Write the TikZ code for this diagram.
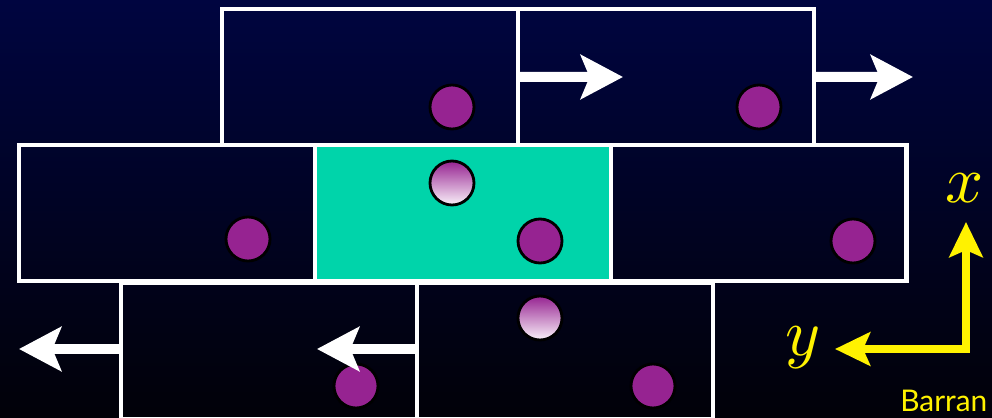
\documentclass[tikz,border=0pt]{standalone}
\usepackage{graphicx}
\usepackage{fontspec}
\newfontfamily\barfont{Lato}
\usetikzlibrary{arrows.meta, positioning}
\definecolor{bgtop}{RGB}{0,5,64}
\definecolor{bgbot}{RGB}{1,1,8}
\definecolor{cellteal}{RGB}{0,212,170}
\definecolor{ptcl}{RGB}{150,35,145}
\definecolor{ptlight}{RGB}{250,242,250}
\newcommand{\biglab}[1]{\scalebox{3.8}{$#1$}}

\begin{document}
\begin{tikzpicture}[
  x=0.02cm, y=-0.02cm,
  node distance=0pt,
  cell/.style={draw=white, line width=0.095cm, minimum width=5.92cm,
               minimum height=2.72cm, inner sep=0pt, outer sep=0pt},
  dot/.style={circle, draw=black, line width=1.6pt, fill=ptcl,
              minimum size=0.88cm, inner sep=0pt},
  ghost/.style={dot, top color=ptcl, bottom color=ptlight},
  move/.style={draw=white, line width=0.2cm,
                -{Stealth[length=24pt, width=25pt, inset=5pt]}},
  axis/.style={draw=yellow, line width=0.16cm, line join=miter,
               {Stealth[length=20pt, width=19pt, inset=4pt]}-{Stealth[length=20pt, width=19pt, inset=4pt]}},
  lab/.style={text=yellow, inner sep=0pt}
]
\shade[top color=bgtop, bottom color=bgbot] (0,0) rectangle (992,418);
\useasboundingbox (0,0) rectangle (992,418);
\clip (0,0) rectangle (992,418);

% cells, three rows
\node[cell, anchor=north west] (t1) at (222,9) {};
\node[cell, right=of t1] (t2) {};
\node[cell, anchor=north west] (m1) at (19,145) {};
\node[cell, right=of m1, fill=cellteal] (m2) {};
\node[cell, right=of m2] (m3) {};
\node[cell, anchor=north west] (b1) at (121,283) {};
\node[cell, right=of b1] (b2) {};

% particles
\node[dot] (p1) at (452,107) {};
\node[dot] (p2) at (759,107) {};
\node[dot] (p3) at (248,239) {};
\node[ghost] (p4) at (452,183) {};
\node[dot] (p5) at (540,241) {};
\node[dot] (p6) at (853,241) {};
\node[ghost] (p7) at (540,318) {};
\node[dot] (p8) at (356,386) {};
\node[dot] (p9) at (653,386) {};

% moves
\coordinate (s1) at (623,77);
\coordinate (s2) at (913,77);
\coordinate (s3) at (19,349);
\coordinate (s4) at (317,349);
\draw[move] (t2.west) -- (s1);
\draw[move] (t2.east) -- (s2);
\draw[move] (b1.west |- s3) -- (s3);
\draw[move] (b2.west |- s4) -- (s4);

% axes
\coordinate (ax0) at (966,349);
\coordinate (axx) at (966,222);
\coordinate (axy) at (835,349);
\draw[axis] (axy) -- (ax0) -- (axx);
\node[lab] (lx) at (965,188) {\biglab{x}};
\node[lab] (ly) at (803,348) {\biglab{y}};
\node[lab, font=\barfont\fontsize{17}{17}\selectfont, anchor=base west] (cap) at (900,412) {Barran};
\end{tikzpicture}
\end{document}
